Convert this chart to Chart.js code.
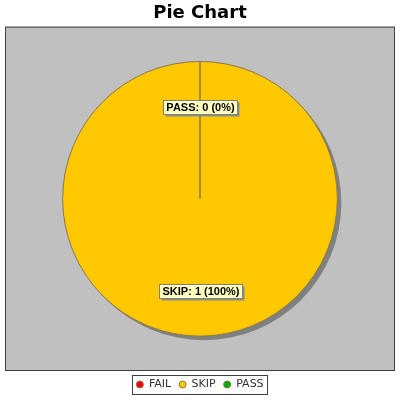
<!DOCTYPE html>
<html>
<head>
<meta charset="utf-8">
<script src="https://cdn.jsdelivr.net/npm/chart.js@4/dist/chart.umd.min.js"></script>
<style>
  html, body { margin: 0; padding: 0; background: #fff; }
  #wrap { width: 400px; height: 400px; }
</style>
</head>
<body>
<div id="wrap"><canvas id="pieChart"></canvas></div>
<script>
const categorias = ['FAIL', 'SKIP', 'PASS'];
const valores = [0, 1, 0];
const colores = ['#ff0000', '#ffc800', '#00b000'];
const conEtiqueta = ['SKIP', 'PASS'];

// fondo gris y borde del area de dibujo
const fondoPlot = {
    id: 'fondoPlot',
    beforeDraw(chart) {
        const { ctx, chartArea: a } = chart;
        ctx.save();
        ctx.fillStyle = '#c0c0c0';
        ctx.fillRect(a.left, a.top, a.right - a.left, a.bottom - a.top);
        ctx.strokeStyle = '#404040';
        ctx.lineWidth = 1;
        ctx.strokeRect(a.left + 0.5, a.top + 0.5, a.right - a.left - 1, a.bottom - a.top - 1);
        ctx.restore();
    }
};

// sombra gris del pastel
const sombra = {
    id: 'sombra',
    beforeDatasetsDraw(chart) {
        const arc = chart.getDatasetMeta(0).data[0];
        if (!arc) return;
        const { x, y, outerRadius } = arc.getProps(['x', 'y', 'outerRadius'], true);
        const ctx = chart.ctx;
        ctx.save();
        ctx.fillStyle = '#808080';
        ctx.beginPath();
        ctx.arc(x + 4, y + 4, outerRadius, 0, Math.PI * 2);
        ctx.fill();
        ctx.restore();
    }
};

// etiquetas con caja amarilla
const etiquetas = {
    id: 'etiquetas',
    afterDatasetsDraw(chart) {
        const ctx = chart.ctx;
        const total = valores.reduce((a, b) => a + b, 0);
        ctx.save();
        ctx.font = 'bold 11px "Liberation Sans", Arial, sans-serif';
        ctx.textAlign = 'center';
        ctx.textBaseline = 'middle';
        chart.getDatasetMeta(0).data.forEach((arc, i) => {
            if (!conEtiqueta.includes(categorias[i])) return;
            const p = arc.getProps(['x', 'y', 'startAngle', 'endAngle', 'outerRadius'], true);
            const ang = (p.startAngle + p.endAngle) / 2;
            const r = p.outerRadius * 0.67;
            const cx = p.x + Math.cos(ang) * r;
            const cy = p.y + Math.sin(ang) * r;
            const pct = Math.round(valores[i] / total * 100);
            const texto = `${categorias[i]}: ${valores[i]} (${pct}%)`;
            const w = Math.round(ctx.measureText(texto).width) + 6;
            const h = 14;
            const bx = Math.round(cx - w / 2) + 0.5, by = Math.round(cy - h / 2) + 0.5;
            ctx.fillStyle = '#8c8c8c';
            ctx.fillRect(bx + 2, by + 2, w, h);
            ctx.fillStyle = '#ffffc0';
            ctx.fillRect(bx, by, w, h);
            ctx.strokeStyle = '#808080';
            ctx.lineWidth = 1;
            ctx.strokeRect(bx, by, w, h);
            ctx.fillStyle = '#000';
            ctx.fillText(texto, bx + w / 2, by + h / 2 + 0.5);
        });
        ctx.restore();
    }
};

// borde alrededor de la leyenda
const bordeLeyenda = {
    id: 'bordeLeyenda',
    afterDraw(chart) {
        const cajas = chart.legend.legendHitBoxes;
        if (!cajas || !cajas.length) return;
        const izq = Math.min(...cajas.map(b => b.left)) - 4;
        const der = Math.max(...cajas.map(b => b.left + b.width)) + 4;
        const arr = Math.min(...cajas.map(b => b.top)) - 4;
        const aba = Math.max(...cajas.map(b => b.top + b.height)) + 4;
        const ctx = chart.ctx;
        ctx.save();
        ctx.strokeStyle = '#404040';
        ctx.lineWidth = 1;
        ctx.strokeRect(Math.round(izq) + 0.5, Math.round(arr) + 0.5, Math.round(der - izq), Math.round(aba - arr));
        ctx.restore();
    }
};

new Chart(document.getElementById('pieChart'), {
    type: 'pie',
    data: {
        labels: categorias,
        datasets: [{
            data: valores,
            backgroundColor: colores,
            borderColor: '#8a7848',
            borderWidth: 1,
            radius: '80%'
        }]
    },
    options: {
        responsive: true,
        maintainAspectRatio: false,
        animation: false,
        rotation: 0,
        layout: { padding: { left: 5, right: 5, top: 0, bottom: 0 } },
        plugins: {
            title: {
                display: true,
                text: 'Pie Chart',
                color: '#000',
                font: { family: '"DejaVu Sans", sans-serif', size: 18, weight: 'bold' },
                padding: { top: 3, bottom: 2 }
            },
            legend: {
                position: 'bottom',
                labels: {
                    usePointStyle: true,
                    pointStyle: 'circle',
                    boxWidth: 7,
                    boxHeight: 5,
                    padding: 8,
                    color: '#333',
                    font: { family: '"DejaVu Sans", sans-serif', size: 11 }
                }
            },
            tooltip: { enabled: false }
        }
    },
    plugins: [fondoPlot, sombra, etiquetas, bordeLeyenda]
});
</script>
</body>
</html>
